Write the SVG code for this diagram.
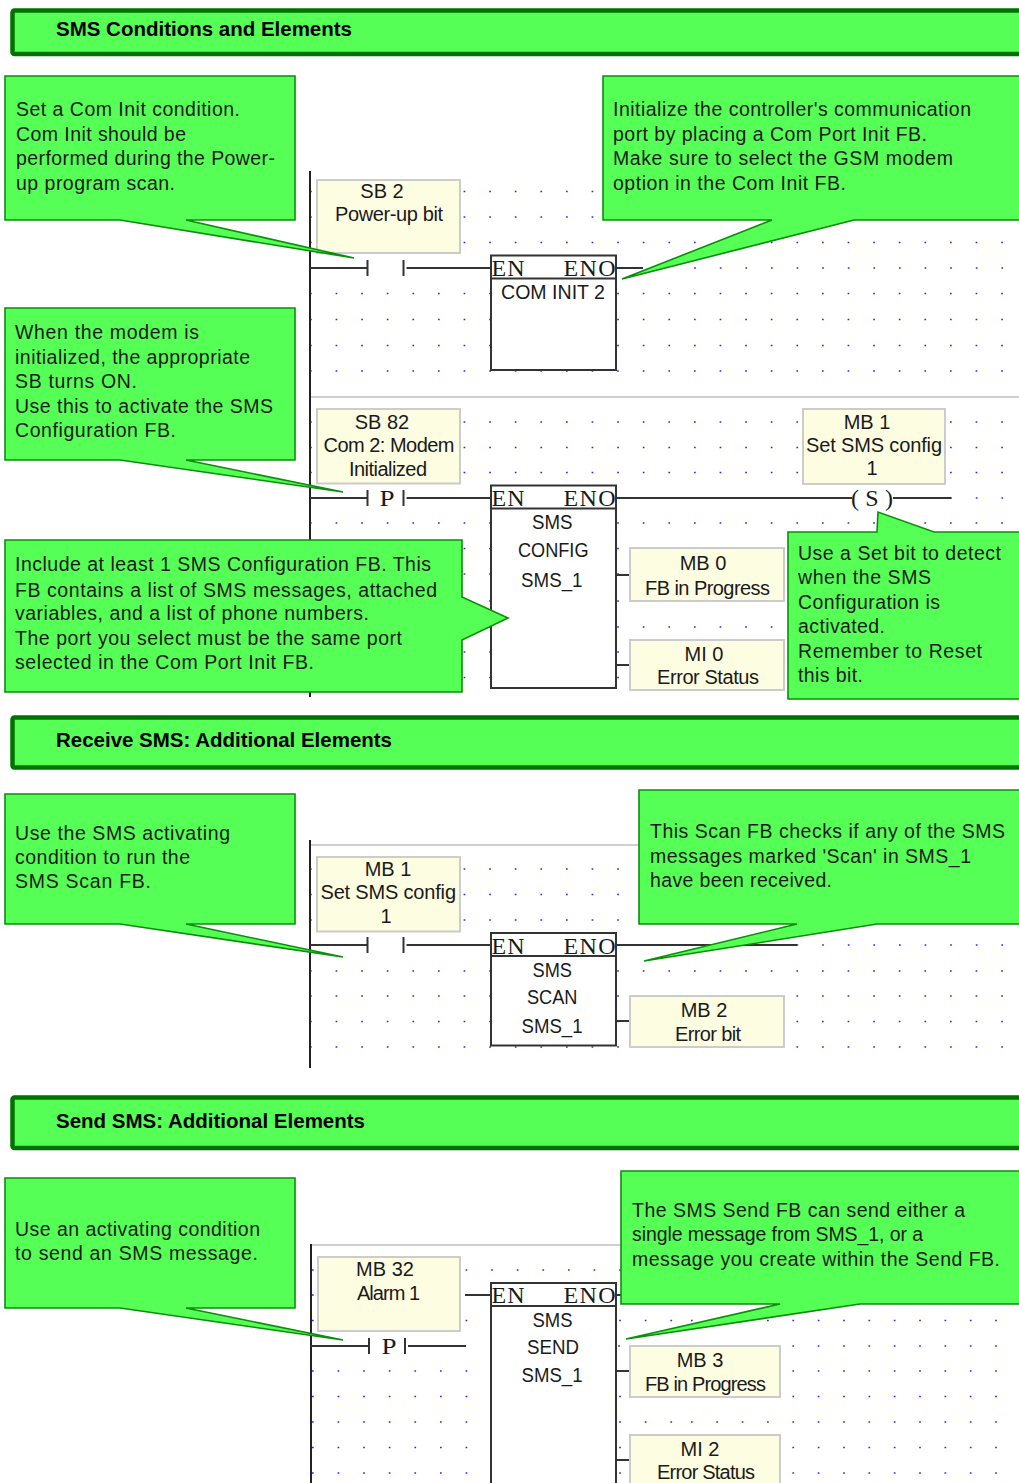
<svg xmlns="http://www.w3.org/2000/svg" width="1019" height="1483" viewBox="0 0 1019 1483">
<style>
text{font-family:"Liberation Sans",Arial,sans-serif;fill:#1a1a1a}
.c{font-size:19.5px}
.l{font-size:20px;text-anchor:middle}
.lf{font-size:20px}
.t{font-size:20.5px;font-weight:bold;fill:#000}
.s{font-family:"Liberation Serif","Times New Roman",serif;font-size:24px}
.call{fill:#55ff55;stroke:#0a8f0a;stroke-width:1.6}
.head{fill:#55ff55;stroke:#007200;stroke-width:4.5}
.lab{fill:#fdfde2;stroke:#cccccc;stroke-width:2}
.fb{fill:#fff;stroke:#333;stroke-width:2}
.w{stroke:#333;stroke-width:2;fill:none}
.rail{stroke:#222;stroke-width:2;fill:none}
.sep{stroke:#cfcfcf;stroke-width:2;fill:none}
.d{stroke:#2a2af0;stroke-width:1.7;fill:none;stroke-dasharray:1.7 23.9}
.e{stroke:#2a2af0;stroke-width:1.7;fill:none;stroke-dasharray:1.7 23.65}
</style>
<rect width="1019" height="1483" fill="#fff"/>
<g id="grid">
<path class="d" d="M310 191.5H1005M310 217H1005M310 242.5H1005M694.2 268H1005M310 293.5H1005M310 319.5H1005M310 345.5H1005M310 371H1005"/>
<path class="d" d="M310 422H1005M310 447.5H1005M310 472.5H1005M950.2 498H1005M310 523H1005M310 548.5H1005M310 574H1005M310 601H1005M310 627H1005M310 652H1005M310 677.5H1005"/>
<path class="d" d="M310 869H1005M310 894.5H1005M310 920H1005M796.6 945H1005M310 971H1005M310 996H1005M310 1021.5H1005M310 1047H1005"/>
<path class="d" d="M312 1270H680M312 1295H680M312 1320.5H680M618.2 1346H680M312 1371H680M312 1396.5H680M312 1422H680M312 1447.5H680M312 1473H680"/>
<path class="e" d="M691 1270H1000M691 1295H1000M691 1320.5H1000M691 1346H1000M691 1371H1000M691 1396.5H1000M691 1422H1000M691 1447.5H1000M691 1473H1000"/>
</g>
<g id="connectors">
<path class="sep" d="M310 397H1019M310 845H640M310 1245H622"/>
<path class="rail" d="M310 171V697M310 840V1068M311 1244V1483"/>
<path class="w" d="M310 268H367.5M367.5 260V276M403.5 260V276M406.5 268H491M616 268H643"/>
<path class="w" d="M310 498H367.5M367.5 490V506M403.5 490V506M406.5 498H491M616 498H852M893 498H951"/>
<path class="w" d="M616 575H630M616 665H630"/>
<path class="w" d="M310 945H367.5M367.5 937V953M403.5 937V953M406.5 945H491M616 945H797M616 1021H630"/>
<path class="w" d="M311 1346H368M369 1338V1354M405 1338V1354M408 1346H466M465 1295H491M616 1295H622M616 1371H630M616 1460H630"/>
</g>
<g id="contact-p1"><text class="s" x="379.5" y="506" textLength="15" lengthAdjust="spacingAndGlyphs">P</text></g>
<g id="coil-s"><text class="s" x="851" y="506" textLength="42" lengthAdjust="spacing">( S )</text></g>
<g id="contact-p2"><text class="s" x="381.5" y="1354" textLength="15" lengthAdjust="spacingAndGlyphs">P</text></g>

<g id="fb-cominit"><rect class="fb" x="491" y="255.5" width="125" height="114.5"/><path class="w" d="M491 278.5H616"/><text class="s" x="491.5" y="276" textLength="33">EN</text><text class="s" x="563.5" y="276" textLength="52">ENO</text><text class="lf" x="501" y="299" textLength="104" lengthAdjust="spacingAndGlyphs">COM INIT 2</text></g>
<g id="fb-config"><rect class="fb" x="491" y="485.5" width="125" height="202.5"/><path class="w" d="M491 508.5H616"/><text class="s" x="491.5" y="506" textLength="33">EN</text><text class="s" x="563.5" y="506" textLength="52">ENO</text><text class="lf" x="532" y="529" textLength="40.5" lengthAdjust="spacingAndGlyphs">SMS</text><text class="lf" x="518" y="556.5" textLength="70.5" lengthAdjust="spacingAndGlyphs">CONFIG</text><text class="lf" x="521" y="587" textLength="61.5" lengthAdjust="spacingAndGlyphs">SMS_1</text></g>
<g id="fb-scan"><rect class="fb" x="491" y="933" width="125" height="112.5"/><path class="w" d="M491 956H616"/><text class="s" x="491.5" y="954" textLength="33">EN</text><text class="s" x="563.5" y="954" textLength="52">ENO</text><text class="lf" x="532.5" y="976.5" textLength="39.5" lengthAdjust="spacingAndGlyphs">SMS</text><text class="lf" x="527" y="1004" textLength="50.5" lengthAdjust="spacingAndGlyphs">SCAN</text><text class="lf" x="521.5" y="1033" textLength="61" lengthAdjust="spacingAndGlyphs">SMS_1</text></g>
<g id="fb-send"><rect class="fb" x="491" y="1283" width="125" height="210"/><path class="w" d="M491 1306H616"/><text class="s" x="491.5" y="1303" textLength="33">EN</text><text class="s" x="563.5" y="1303" textLength="52">ENO</text><text class="lf" x="532.5" y="1326.5" textLength="40" lengthAdjust="spacingAndGlyphs">SMS</text><text class="lf" x="527" y="1354" textLength="52" lengthAdjust="spacingAndGlyphs">SEND</text><text class="lf" x="521.5" y="1382" textLength="61" lengthAdjust="spacingAndGlyphs">SMS_1</text></g>

<g id="lab-sb2"><rect class="lab" x="317" y="180" width="143" height="73"/><text class="l" x="382" y="198">SB 2</text><text class="lf" x="335" y="221" textLength="108">Power-up bit</text></g>
<g id="lab-sb82"><rect class="lab" x="317" y="409" width="143" height="74.5"/><text class="l" x="382" y="428.5">SB 82</text><text class="lf" x="323.5" y="452" textLength="131">Com 2: Modem</text><text class="lf" x="349" y="475.5" textLength="78">Initialized</text></g>
<g id="lab-mb1"><rect class="lab" x="803" y="409" width="142" height="75"/><text class="l" x="867" y="428.5">MB 1</text><text class="lf" x="806" y="452" textLength="136">Set SMS config</text><text class="l" x="872" y="475">1</text></g>
<g id="lab-mb0"><rect class="lab" x="630" y="548" width="154" height="53"/><text class="l" x="703" y="569.5">MB 0</text><text class="lf" x="645" y="595" textLength="125">FB in Progress</text></g>
<g id="lab-mi0"><rect class="lab" x="630" y="640" width="154" height="50"/><text class="l" x="704" y="661">MI 0</text><text class="lf" x="657" y="684" textLength="102">Error Status</text></g>
<g id="lab-mb1b"><rect class="lab" x="317" y="857" width="143" height="74.5"/><text class="l" x="388" y="875.5">MB 1</text><text class="lf" x="320.5" y="899" textLength="135.5">Set SMS config</text><text class="l" x="386" y="922.5">1</text></g>
<g id="lab-mb2"><rect class="lab" x="630" y="996" width="154" height="51"/><text class="l" x="704" y="1016.5">MB 2</text><text class="lf" x="675" y="1041" textLength="66">Error bit</text></g>
<g id="lab-mb32"><rect class="lab" x="318" y="1257" width="142" height="74"/><text class="l" x="385" y="1276">MB 32</text><text class="lf" x="357" y="1300" textLength="63">Alarm 1</text></g>
<g id="lab-mb3"><rect class="lab" x="630" y="1346" width="150" height="51"/><text class="l" x="700" y="1367">MB 3</text><text class="lf" x="645" y="1391" textLength="121">FB in Progress</text></g>
<g id="lab-mi2"><rect class="lab" x="630" y="1435" width="150" height="60"/><text class="l" x="700" y="1456">MI 2</text><text class="lf" x="657" y="1479" textLength="98">Error Status</text></g>

<g id="head-1"><rect class="head" x="12.5" y="10.5" width="1030" height="43.5" rx="2"/><text class="t" x="56" y="36" textLength="296">SMS Conditions and Elements</text></g>
<g id="head-2"><rect class="head" x="12.5" y="717.5" width="1030" height="50" rx="2"/><text class="t" x="56" y="746.5" textLength="336">Receive SMS: Additional Elements</text></g>
<g id="head-3"><rect class="head" x="12.5" y="1097.5" width="1030" height="50.5" rx="2"/><text class="t" x="56" y="1127.5" textLength="309">Send SMS: Additional Elements</text></g>

<g id="note-1"><path class="call" d="M5 76H295V220H186L354 258L120 220H5Z"/>
<text class="c" x="16" y="116" textLength="224">Set a Com Init condition.</text><text class="c" x="16" y="141" textLength="170">Com Init should be</text><text class="c" x="16" y="165" textLength="259">performed during the Power-</text><text class="c" x="16" y="190" textLength="159">up program scan.</text></g>
<g id="note-2"><path class="call" d="M603 76H1040V220H854L622 279L772 220H603Z"/>
<text class="c" x="613" y="116" textLength="358">Initialize the controller's communication</text><text class="c" x="613" y="141" textLength="314">port by placing a Com Port Init FB.</text><text class="c" x="613" y="165" textLength="340">Make sure to select the GSM modem</text><text class="c" x="613" y="190" textLength="233">option in the Com Init FB.</text></g>
<g id="note-3"><path class="call" d="M5 308H295V460H186L343 492L120 460H5Z"/>
<text class="c" x="15" y="339" textLength="184">When the modem is</text><text class="c" x="15" y="364" textLength="235">initialized, the appropriate</text><text class="c" x="15" y="388" textLength="122">SB turns ON.</text><text class="c" x="15" y="413" textLength="258">Use this to activate the SMS</text><text class="c" x="15" y="437" textLength="161">Configuration FB.</text></g>
<g id="note-4"><path class="call" d="M5 540H462V597L508 618L462 640V692H5Z"/>
<text class="c" x="15" y="571" textLength="416">Include at least 1 SMS Configuration FB. This</text><text class="c" x="15" y="597" textLength="422">FB contains a list of SMS messages, attached</text><text class="c" x="15" y="620" textLength="354">variables, and a list of phone numbers.</text><text class="c" x="15" y="645" textLength="387">The port you select must be the same port</text><text class="c" x="15" y="669" textLength="299">selected in the Com Port Init FB.</text></g>
<g id="note-5"><path class="call" d="M788 532H877L878 512L934 532H1040V699H788Z"/>
<text class="c" x="798" y="560" textLength="203">Use a Set bit to detect</text><text class="c" x="798" y="584" textLength="133">when the SMS</text><text class="c" x="798" y="609" textLength="142">Configuration is</text><text class="c" x="798" y="633" textLength="87">activated.</text><text class="c" x="798" y="658" textLength="184">Remember to Reset</text><text class="c" x="798" y="682" textLength="65">this bit.</text></g>
<g id="note-6"><path class="call" d="M5 794H295V924H186L343 957L120 924H5Z"/>
<text class="c" x="15" y="840" textLength="215">Use the SMS activating</text><text class="c" x="15" y="864" textLength="175">condition to run the</text><text class="c" x="15" y="888" textLength="136">SMS Scan FB.</text></g>
<g id="note-7"><path class="call" d="M639 790H1040V924H877L644 961L797 924H639Z"/>
<text class="c" x="650" y="838" textLength="355">This Scan FB checks if any of the SMS</text><text class="c" x="650" y="863" textLength="321">messages marked 'Scan' in SMS_1</text><text class="c" x="650" y="887" textLength="182">have been received.</text></g>
<g id="note-8"><path class="call" d="M5 1178H295V1308H186L343 1340L120 1308H5Z"/>
<text class="c" x="15" y="1236" textLength="245">Use an activating condition</text><text class="c" x="15" y="1260" textLength="243">to send an SMS message.</text></g>
<g id="note-9"><path class="call" d="M621 1171H1040V1304H860L626 1339L780 1304H621Z"/>
<text class="c" x="632" y="1217" textLength="333">The SMS Send FB can send either a</text><text class="c" x="632" y="1241" textLength="291">single message from SMS_1, or a</text><text class="c" x="632" y="1266" textLength="368">message you create within the Send FB.</text></g>
</svg>
